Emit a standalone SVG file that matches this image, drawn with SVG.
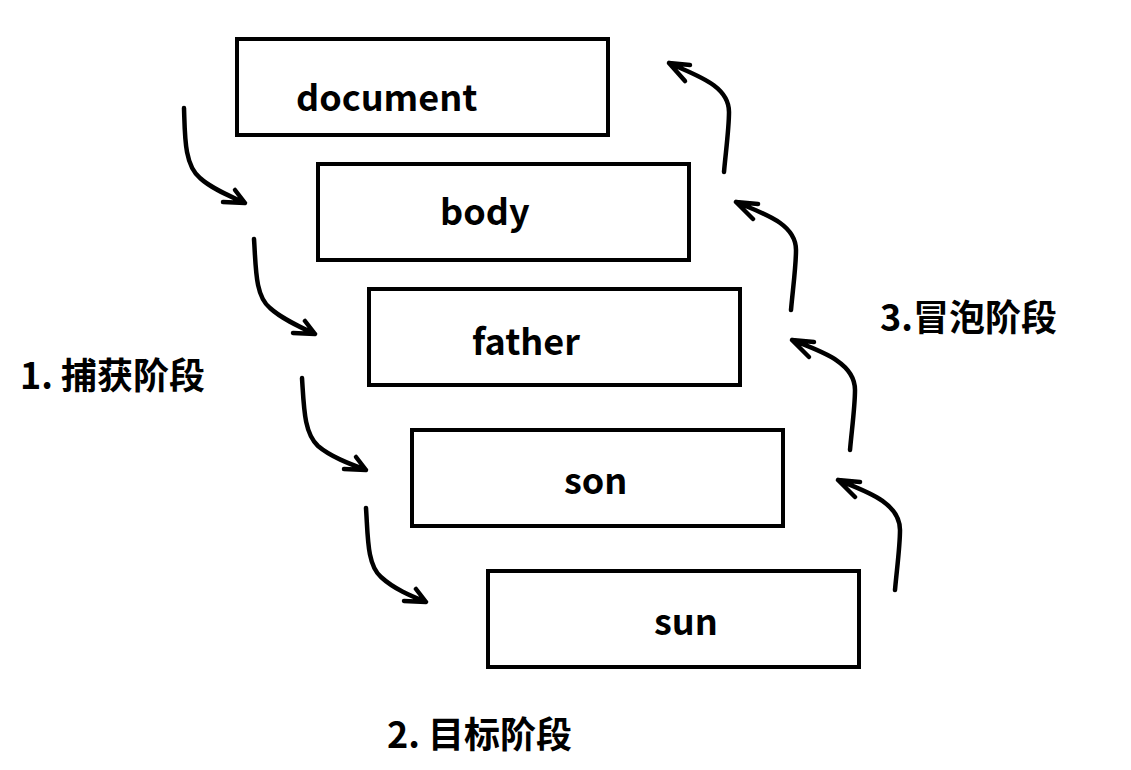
<svg xmlns="http://www.w3.org/2000/svg" width="1131" height="770" viewBox="0 0 1131 770">
<style>
.box{fill:#fff;stroke:#000;stroke-width:4}
.t{font-family:"Noto Sans CJK SC","Noto Sans",sans-serif;font-weight:bold;font-size:36px;fill:#000}
.lbl{font-family:"Noto Sans CJK SC","Noto Sans",sans-serif;font-weight:bold;font-size:36px;fill:#000}
.c{fill:none;stroke:#000;stroke-width:4.5;stroke-linecap:round;stroke-linejoin:round}
</style>
<rect width="1131" height="770" fill="#fff"/>
<g id="document"><rect class="box" x="237" y="39" width="371" height="96"/><text class="t" x="296" y="111">document</text></g>
<g id="body"><rect class="box" x="318" y="164" width="371" height="96"/><text class="t" x="440" y="225">body</text></g>
<g id="father"><rect class="box" x="369" y="289" width="371" height="96"/><text class="t" x="472" y="355">father</text></g>
<g id="son"><rect class="box" x="412" y="430" width="371" height="96"/><text class="t" x="564" y="494">son</text></g>
<g id="sun"><rect class="box" x="488" y="571" width="371" height="96"/><text class="t" x="654" y="635">sun</text></g>
<g id="labels">
<text class="lbl" x="20" y="389">1. 捕获阶段</text>
<text class="lbl" x="880" y="331">3.冒泡阶段</text>
<text class="lbl" x="387" y="748">2. 目标阶段</text>
</g>
<g id="connectors">
<path class="c" d="M184,108 C185,135 184,165 200,178 C212,189 230,196 245,203 M223,202 L245,203 L235,190"/>
<path class="c" d="M254,239 C256,268 255,296 270,308 C282,319 300,327 315,334 M293,333 L315,334 L305,321"/>
<path class="c" d="M302,378 C304,408 304,433 318,446 C331,457 350,464 366,470 M344,469 L366,470 L356,457"/>
<path class="c" d="M366,508 C368,537 367,565 381,577 C394,589 411,596 426,602 M404,601 L426,602 L416,589"/>
<path class="c" d="M724,172 C726,150 729,128 729,112 C729,85 695,75 669,63 M690,65 L669,63 L685,81"/>
<path class="c" d="M791,310 C793,288 796,266 796,250 C796,223 762,213 736,202 M758,204 L736,202 L753,219"/>
<path class="c" d="M850,450 C852,428 855,406 855,390 C855,362 820,351 792,340 M814,342 L792,340 L809,357"/>
<path class="c" d="M895,590 C897,568 900,546 900,530 C900,502 865,491 838,480 M860,482 L838,480 L855,497"/>
</g>
</svg>
